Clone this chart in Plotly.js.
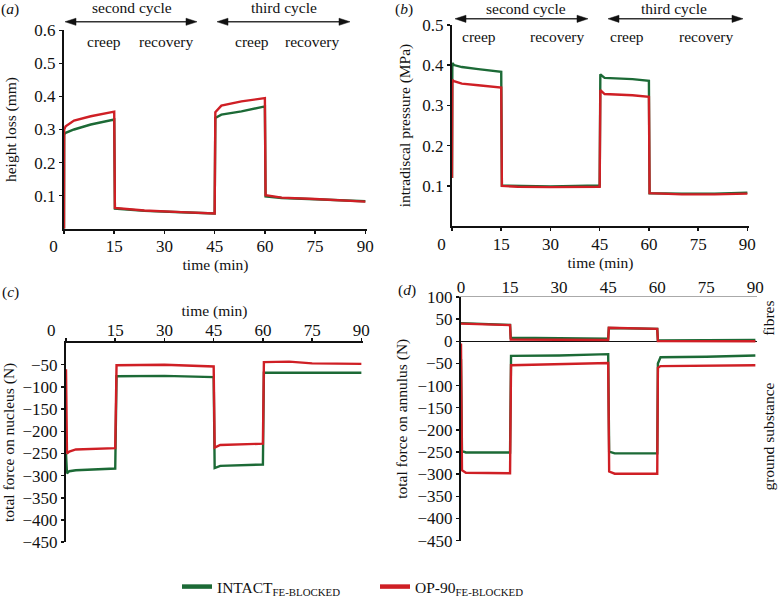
<!DOCTYPE html>
<html>
<head>
<meta charset="utf-8">
<script src="https://cdn.plot.ly/plotly-3.0.1.min.js"></script>
<style>html,body{margin:0;padding:0;background:#fff;}#chart{width:778px;height:604px;}</style>
</head>
<body>
<div id="chart"></div>
<script>
// ---------- data ----------
var timeTicks = [0, 15, 30, 45, 60, 75, 90];

// (a) height loss (mm)
var tA = [0, 0.05, 0.5, 3, 8, 15, 15.2, 24, 35, 45, 45.2, 47, 53, 60, 60.2, 65, 75, 85, 90];
var heightIntact = [0, 0.285, 0.29, 0.30, 0.315, 0.33, 0.061, 0.054, 0.05, 0.046, 0.335, 0.345, 0.355, 0.37, 0.098, 0.093, 0.089, 0.085, 0.083];
var heightOP90 = [0, 0.30, 0.31, 0.327, 0.34, 0.354, 0.063, 0.055, 0.05, 0.046, 0.352, 0.372, 0.385, 0.395, 0.101, 0.094, 0.09, 0.085, 0.082];

// (b) intradiscal pressure (MPa)
var tB = [0, 0.1, 0.6, 3, 8, 15, 15.2, 20, 30, 45, 45.2, 46.5, 55, 60, 60.2, 70, 80, 90];
var pressIntact = [0.12, 0.405, 0.400, 0.395, 0.39, 0.383, 0.101, 0.100, 0.099, 0.101, 0.377, 0.368, 0.365, 0.361, 0.082, 0.081, 0.081, 0.083];
var pressOP90 = [0.12, 0.363, 0.36, 0.354, 0.35, 0.344, 0.100, 0.098, 0.097, 0.098, 0.338, 0.328, 0.325, 0.321, 0.082, 0.079, 0.079, 0.081];

// (c) total force on nucleus (N)
var tC = [0, 0.3, 1, 3, 15, 15.4, 30, 45, 45.3, 47, 60, 60.3, 68, 75, 90];
var nucleusIntact = [-250, -295, -290, -288, -284, -76, -75, -78, -283, -278, -275, -68, -68, -68, -68];
var nucleusOP90 = [-60, -250, -246, -241, -238, -51, -50, -54, -237, -231, -228, -44, -43, -47, -48];

// (d) total force on annulus (N): fibres and ground substance
var tDf = [0, 15, 15.2, 30, 45, 45.2, 60, 60.2, 75, 90];
var fibresIntact = [41, 37, 8, 7, 6, 30, 28, 2, 2, 3];
var fibresOP90 = [40, 36.5, 4, 3, 3, 30.5, 28, 0.5, 0, 0];
var tDg = [0, 0.3, 1.5, 15, 15.3, 30, 45, 45.3, 47, 60, 60.2, 61, 75, 90];
var groundIntact = [-40, -248, -251, -251, -33, -32, -29, -249, -253, -253, -50, -36, -35, -32];
var groundOP90 = [-5, -291, -297, -298, -54, -52, -49, -294, -299, -299, -60, -56, -55, -54];

var seriesNames = ['INTACT<sub>FE-BLOCKED</sub>', 'OP-90<sub>FE-BLOCKED</sub>'];
// ---------- styling ----------
var GREEN = '#1c6a36', RED = '#cf1f25';
var FONT = '"Liberation Serif", "Times New Roman", serif';
var W = 778, H = 604;
function px(x) { return x / W; }
function py(y) { return 1 - y / H; }

function line(x, y, color, xa, ya) {
  return {x: x, y: y, xaxis: xa, yaxis: ya, type: 'scatter', mode: 'lines', showlegend: false,
          hoverinfo: 'skip', line: {color: color, width: 2.4}};
}

var data = [
  line(tA, heightIntact, GREEN, 'x', 'y'),
  line(tA, heightOP90, RED, 'x', 'y'),
  line(tB, pressIntact, GREEN, 'x2', 'y2'),
  line(tB, pressOP90, RED, 'x2', 'y2'),
  line(tC, nucleusIntact, GREEN, 'x3', 'y3'),
  line(tC, nucleusOP90, RED, 'x3', 'y3'),
  line(tDf, fibresIntact, GREEN, 'x4', 'y4'),
  line(tDf, fibresOP90, RED, 'x4', 'y4'),
  line(tDg, groundIntact, GREEN, 'x4', 'y4'),
  line(tDg, groundOP90, RED, 'x4', 'y4'),
  // legend entries
  {x: [null], y: [null], type: 'scatter', mode: 'lines', name: seriesNames[0], line: {color: GREEN, width: 4.5}, showlegend: true},
  {x: [null], y: [null], type: 'scatter', mode: 'lines', name: seriesNames[1], line: {color: RED, width: 4.5}, showlegend: true}
];

var tickFont = {family: FONT, size: 17, color: '#111'};
var titleFont = {family: FONT, size: 15.5, color: '#111'};
var NB = '\u00a0';
function repeat(s, n) { var r = ''; for (var i = 0; i < n; i++) r += s; return r; }

// zeroPad: number of non-breaking spaces after the "0" label (moves it left of the y axis, as in the reference)
function xAxis(domain, anchor, side, title, lineColor, lineWidth, showTicks, labelShift, zeroPad) {
  var ax = {
    domain: domain, anchor: anchor, side: side, range: [0, 90.5],
    tickvals: timeTicks,
    ticktext: timeTicks.map(function (v) { return v === 0 ? '0' + repeat(NB, zeroPad) : String(v); }),
    showgrid: false, zeroline: false, showline: true, linecolor: lineColor, linewidth: lineWidth,
    ticks: showTicks ? 'outside' : '', ticklen: 3, tickwidth: 1.5, tickcolor: '#111',
    ticklabelstandoff: labelShift,
    tickfont: tickFont, automargin: false, fixedrange: true
  };
  if (title) ax.title = {text: title, font: titleFont, standoff: 0};
  return ax;
}
function yAxis(domain, anchor, range, tickvals, title, standoff, extra) {
  var ax = {
    domain: domain, anchor: anchor, range: range, tickvals: tickvals,
    showgrid: false, zeroline: false, showline: true, linecolor: '#111', linewidth: 2,
    ticks: 'outside', ticklen: 3, tickwidth: 1.5, tickcolor: '#111',
    tickfont: tickFont, automargin: false, fixedrange: true,
    title: {text: title, font: titleFont, standoff: standoff}
  };
  for (var k in extra) ax[k] = extra[k];
  return ax;
}

var layout = {
  width: W, height: H,
  margin: {l: 0, r: 0, t: 0, b: 0},
  paper_bgcolor: '#fff', plot_bgcolor: 'rgba(0,0,0,0)',
  font: {family: FONT, color: '#111'},
  xaxis: xAxis([px(64), px(367)], 'y', 'bottom', 'time (min)', '#111', 2, true, -2, 5),
  yaxis: yAxis([py(231), py(30.6)], 'x', [0, 0.6], [0.1, 0.2, 0.3, 0.4, 0.5, 0.6], 'height loss (mm)', 14, {tickformat: '.1f'}),
  xaxis2: xAxis([px(452), px(749)], 'y2', 'bottom', 'time (min)', '#111', 2, true, -2, 5),
  yaxis2: yAxis([py(228.5), py(25)], 'x2', [0, 0.5], [0.1, 0.2, 0.3, 0.4, 0.5], 'intradiscal pressure (MPa)', 8, {tickformat: '.1f'}),
  xaxis3: xAxis([px(66), px(363)], 'y3', 'top', 'time (min)', '#111', 2, true, -5, 7),
  yaxis3: yAxis([py(547.6), py(346)], 'x3', [-450, 0], [-50, -100, -150, -200, -250, -300, -350, -400, -450], 'total force on nucleus (N)', 6, {}),
  xaxis4: xAxis([px(461), px(757)], 'y4', 'top', null, '#aaaaaa', 1.2, false, -4, 0),
  yaxis4: yAxis([py(546), py(300)], 'x4', [-450, 100], [100, 50, 0, -50, -100, -150, -200, -250, -300, -350, -400, -450], 'total force on annulus (N)', 6,
                {zeroline: true, zerolinecolor: '#111', zerolinewidth: 1.5}),
  showlegend: true,
  legend: {orientation: 'h', x: px(177), xanchor: 'left', y: py(593), yanchor: 'middle',
           font: {family: FONT, size: 15.5, color: '#111'}, bgcolor: 'rgba(0,0,0,0)', itemwidth: 30,
           entrywidth: 153},
  annotations: [],
  shapes: []
};

function txt(text, x, y, opts) {
  var a = {text: text, x: px(x), y: py(y), xref: 'paper', yref: 'paper', showarrow: false,
           xanchor: 'center', yanchor: 'middle', font: {family: FONT, size: 15.5, color: '#111'}};
  for (var k in opts) a[k] = opts[k];
  layout.annotations.push(a);
}
// double-headed arrow drawn as shapes (pixel positions converted to paper)
function arrow(x0, x1, y) {
  var c = '#333';
  layout.shapes.push({type: 'line', xref: 'paper', yref: 'paper', x0: px(x0 + 4), x1: px(x1 - 4), y0: py(y), y1: py(y),
                      line: {color: c, width: 1.4}});
  var L = 11, h = 3.6;
  layout.shapes.push({type: 'path', xref: 'paper', yref: 'paper', fillcolor: '#111', line: {color: '#111', width: 0.5},
    path: 'M' + px(x0) + ',' + py(y) + ' L' + px(x0 + L) + ',' + py(y - h) + ' L' + px(x0 + L) + ',' + py(y + h) + ' Z'});
  layout.shapes.push({type: 'path', xref: 'paper', yref: 'paper', fillcolor: '#111', line: {color: '#111', width: 0.5},
    path: 'M' + px(x1) + ',' + py(y) + ' L' + px(x1 - L) + ',' + py(y - h) + ' L' + px(x1 - L) + ',' + py(y + h) + ' Z'});
}

// panel labels
txt('(<i>a</i>)', 10, 9);
txt('(<i>b</i>)', 404, 9);
txt('(<i>c</i>)', 10, 295);
txt('(<i>d</i>)', 407, 293);
// cycle annotations panel a
txt('second cycle', 132, 8);
txt('third cycle', 284, 8);
arrow(65, 197, 22);
arrow(217, 350, 22);
txt('creep', 104, 42);
txt('recovery', 166, 42);
txt('creep', 252, 42);
txt('recovery', 312, 42);
// panel b
txt('second cycle', 526, 9);
txt('third cycle', 674, 9);
arrow(455, 588, 19);
arrow(608, 743, 19);
txt('creep', 479, 37);
txt('recovery', 557, 37);
txt('creep', 627, 37);
txt('recovery', 706, 37);
// panel d side labels
txt('fibres', 769, 322, {textangle: -90});
txt('ground substance', 769, 441, {textangle: -90});

Plotly.newPlot('chart', data, layout, {staticPlot: true, displayModeBar: false});
</script>
</body>
</html>
